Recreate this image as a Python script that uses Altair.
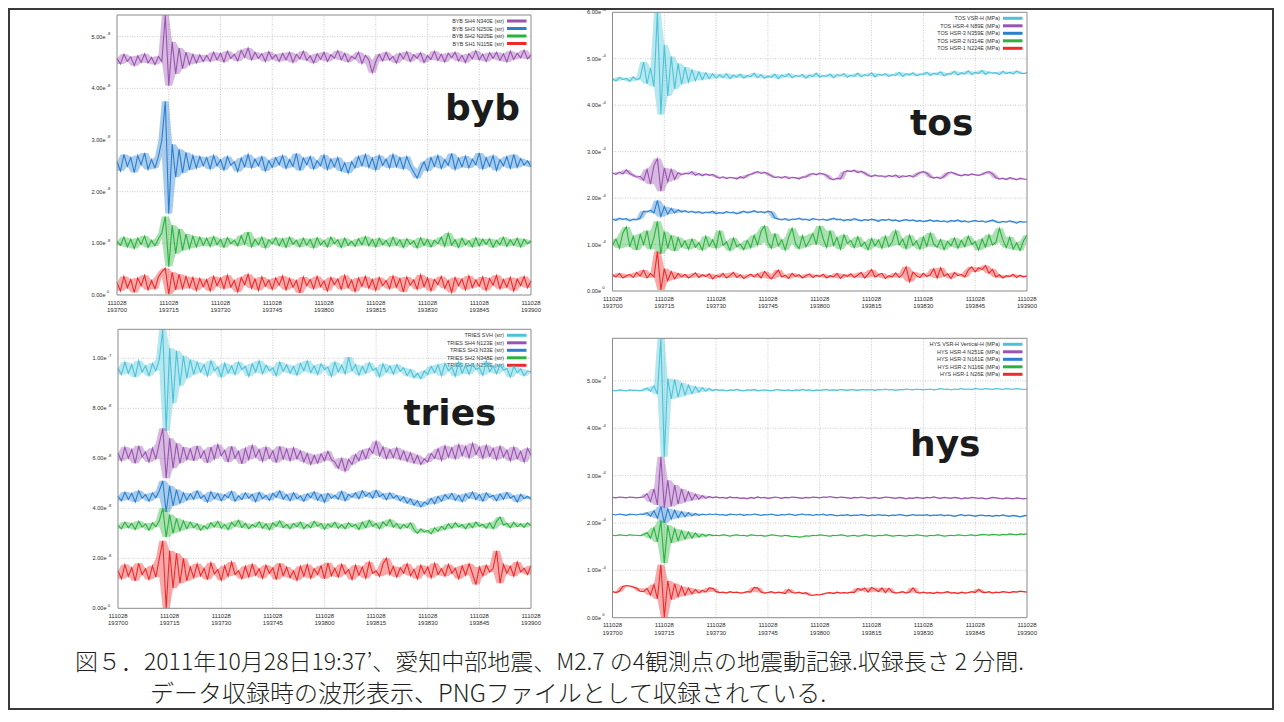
import altair as alt
import pandas as pd

# ---------------- shared axis text ----------------
XTICKS = [0, 15, 30, 45, 60, 75, 90, 105, 120]          # seconds after 19:37:00
XLAB_DATE = ["111028"] * 9
XLAB_TIME = ["193700", "193715", "193730", "193745", "193800",
             "193815", "193830", "193845", "193900"]

# ---------------- byb (strain, units of 1e-10) ----------------
BYB_NAMES = ["BYB SH4 N340E (str)", "BYB SH3 N250E (str)", "BYB SH2 N205E (str)", "BYB SH1 N115E (str)"]
BYB_YTICKS = [0, 100, 200, 300, 400, 500]
BYB_YMANT = ["0.00e", "1.00e", "2.00e", "3.00e", "4.00e", "5.00e"]
BYB_YEXP = ["0", "-8", "-8", "-8", "-8", "-8"]
BYB_SH4 = [458,447,466,452,461,444,463,450,467,449,460,446,462,
           452,560,405,490,428,478,438,470,446,466,449,465,452,
           464,452,470,455,468,451,472,458,466,453,474,460,478,455,470,458,467,452,471,457,465,
           452,468,455,470,450,466,457,472,454,463,449,467,456,470,452,465,458,473,455,468,451,462,457,470,448,464,455,
           430,452,
           466,453,470,455,462,449,468,457,471,452,465,458,469,450,463,456,472,454,466,451,
           468,459,470,453,464,450,467,457,473,455,466,452,469,458,470,454,467,451,472,456,468,459,474,457,465]
BYB_SH3 = [258,240,272,249,266,237,270,252,275,243,262,246,268,
           300,375,158,292,228,282,236,276,242,270,246,268,250,
           266,244,270,250,262,242,268,251,258,239,265,248,272,246,263,250,268,240,260,247,266,
           252,270,245,262,249,274,241,265,252,268,244,260,250,271,243,263,248,266,240,256,236,258,246,268,250,272,247,
           265,242,270,251,263,246,272,248,266,244,268,250,238,226,244,258,240,266,249,270,
           245,262,251,274,243,265,248,269,246,263,252,275,244,266,249,270,241,262,250,268,245,272,247,264,251,260,248]
BYB_SH2 = [104,96,112,93,108,90,110,98,114,92,106,95,109,
           120,152,55,135,80,128,86,118,90,114,93,112,96,
           110,94,113,97,108,92,111,99,106,95,115,98,122,93,108,97,112,91,107,99,111,
           95,109,92,112,98,106,93,110,96,108,91,111,97,105,93,112,99,107,92,110,96,104,94,109,97,113,95,
           108,93,110,97,106,94,112,96,107,92,109,98,105,91,111,96,108,93,106,99,
           112,94,120,96,107,92,110,97,105,93,111,95,108,98,109,92,106,97,112,94,107,96,110,93,108,99,105]
BYB_SH1 = [24,8,36,14,30,5,33,18,38,10,28,12,35,
           45,52,2,44,10,40,12,36,14,34,9,32,16,
           30,8,36,18,33,12,38,15,28,6,34,20,40,13,31,9,35,17,29,11,33,
           19,37,10,32,15,28,4,35,18,30,12,36,16,27,8,34,20,31,11,38,14,29,7,33,17,36,13,
           30,9,34,18,28,12,37,15,32,6,35,19,29,11,39,16,33,8,30,20,
           36,13,28,5,34,18,31,10,37,14,29,17,35,9,32,19,38,12,30,15,34,8,31,18,36,14,27]

# ---------------- tos (MPa, units of 1e-6) ----------------
TOS_NAMES = ["TOS VSR-H (MPa)", "TOS HSR-4 N89E (MPa)", "TOS HSR-3 N359E (MPa)",
             "TOS HSR-2 N314E (MPa)", "TOS HSR-1 N224E (MPa)"]
TOS_YTICKS = [0, 100, 200, 300, 400, 500, 600]
TOS_YMANT = ["0.00e", "1.00e", "2.00e", "3.00e", "4.00e", "5.00e", "6.00e"]
TOS_YEXP = ["0", "-4", "-4", "-4", "-4", "-4", "-4"]
TOS_VSR = [457,452,460,455,458,451,461,454,459,
           493,446,480,440,640,380,530,420,505,435,490,445,482,450,476,453,472,455,470,457,468,458,
           466,459,468,457,465,460,467,458,464,461,469,459,466,458,463,460,467,457,465,461,468,459,464,462,466,458,465,461,469,460,
           464,462,467,459,466,463,468,460,465,462,469,461,466,463,470,461,467,464,468,462,466,464,471,462,468,465,470,463,467,466,
           471,464,469,466,472,463,468,467,473,465,470,467,474,466,471,468,475,466,472,469,470,466,473,468,471,467,474,469,468,470]
TOS_HSR4 = [254,251,256,252,261,253,249,245,247,
            238,262,230,270,285,215,265,235,262,240,255,250,254,252,257,249,253,248,252,249,251,246,
            243,246,242,245,244,241,246,243,249,251,
            254,257,253,256,252,248,
            244,246,243,247,242,245,244,241,246,245,
            251,253,250,254,252,249,
            242,239,243,241,
            256,259,257,260,255,258,254,
            249,246,250,247,248,245,249,246,250,244,248,246,249,245,251,
            255,257,254,
            246,243,245,242,247,
            254,256,253,
            250,248,251,249,252,250,249,251,
            255,257,252,
            244,241,243,240,244,242,239,243,241,240]
TOS_HSR3 = [155,152,157,154,156,151,155,153,157,
            172,170,174,168,195,160,182,165,178,168,175,170,
            173,169,172,168,171,167,170,168,172,166,169,167,171,168,170,166,169,172,168,170,173,169,171,168,172,170,
            157,
            155,153,156,152,155,154,157,153,155,152,156,154,153,
            155,152,154,157,153,155,151,154,152,156,153,151,154,152,155,
            153,150,154,152,155,151,153,150,152,154,151,153,150,152,149,
            151,153,150,152,149,151,148,152,150,153,149,151,148,150,152,
            149,151,148,150,153,149,147,150,148,151,149,146,150,148,149]
TOS_HSR2 = [98,112,92,125,138,95,118,88,122,100,130,90,115,
            150,80,128,92,120,86,115,95,
            108,90,112,94,104,88,118,96,110,92,130,98,106,87,114,95,101,89,109,93,
            120,99,128,140,105,92,124,97,110,88,116,135,102,91,119,95,108,124,100,140,
            112,94,130,98,115,90,121,102,109,93,117,96,105,89,113,97,110,92,118,95,
            106,130,99,112,91,120,98,108,90,116,96,125,101,94,111,89,107,97,114,92,
            109,95,118,100,106,88,112,94,121,99,105,135,110,93,116,90,104,87,108,120]
TOS_HSR1 = [35,30,38,28,33,36,29,40,32,45,28,38,30,
            85,2,48,22,42,26,38,30,
            36,28,33,39,29,35,31,37,26,34,30,38,28,33,40,29,35,27,32,36,
            30,37,28,42,33,26,36,45,30,34,27,38,31,35,28,33,37,29,34,31,
            36,28,33,30,38,27,35,31,37,29,34,40,28,36,46,30,35,38,27,33,
            30,39,29,36,52,20,41,33,29,38,31,35,48,28,50,32,37,27,40,33,
            36,30,45,52,41,50,46,55,38,47,30,35,28,33,31,36,29,34,30,33]

# ---------------- tries (strain, units of 1e-10) ----------------
TRIES_NAMES = ["TRIES SVH (str)", "TRIES SH4 N123E (str)", "TRIES SH3 N33E (str)",
               "TRIES SH2 N348E (str)", "TRIES SH1 N258E (str)"]
TRIES_YTICKS = [0, 200, 400, 600, 800, 1000]
TRIES_YMANT = ["0.00e", "2.00e", "4.00e", "6.00e", "8.00e", "1.00e"]
TRIES_YEXP = ["0", "-8", "-8", "-8", "-8", "-7"]
TRIES_SVH = [960,935,985,940,975,925,990,945,970,930,980,950,
             995,1150,710,1040,820,1030,890,1010,920,995,935,985,
             945,975,930,990,950,965,925,980,940,970,935,985,955,968,928,978,945,990,938,972,950,962,930,985,948,975,940,
             968,932,980,950,990,942,970,935,978,955,965,928,985,945,972,938,1005,950,975,932,968,940,982,952,960,926,978,944,970,936,
             975,948,962,930,955,922,940,918,950,935,968,942,975,930,980,950,965,928,985,940,
             972,936,978,955,962,932,988,946,970,938,975,952,960,925,968,942,958,930,950,945]
TRIES_SH4 = [620,590,645,600,635,580,650,605,625,585,640,598,
             660,720,520,680,560,660,580,645,595,
             638,590,650,602,630,582,645,598,655,610,632,585,648,600,628,578,640,595,652,605,635,588,645,600,630,583,648,597,638,590,
             642,598,630,585,620,575,612,580,618,590,628,595,
             585,560,600,548,595,575,
             615,590,632,598,640,620,668,610,645,598,635,602,
             642,595,630,588,622,580,612,575,598,585,620,600,
             638,592,650,605,642,598,655,610,648,602,660,615,645,600,652,608,640,595,648,605,632,590,645,598,628,585,640,612]
TRIES_SH3 = [448,430,465,435,460,425,470,440,455,428,462,442,
             470,510,385,490,410,475,420,462,432,
             458,436,470,440,452,425,466,438,460,430,455,442,468,428,450,435,462,440,456,426,464,438,452,432,460,444,470,436,455,430,
             462,438,450,428,458,442,466,432,455,424,460,440,452,436,468,430,456,444,462,438,470,448,462,440,472,446,458,434,462,440,
             452,430,446,420,438,412,430,405,425,415,440,418,448,428,455,
             438,460,432,452,426,458,440,465,435,455,428,462,444,452,430,458,436,464,440,450,425,456,438,448,436]
TRIES_SH2 = [332,318,345,322,340,315,348,325,338,312,342,326,
             350,400,285,375,300,360,310,350,318,
             345,322,338,312,330,318,342,325,348,320,336,315,344,328,352,322,340,318,335,325,346,320,338,314,342,328,350,322,336,318,
             340,326,345,318,335,322,348,328,340,316,338,325,344,320,335,318,342,326,336,315,345,322,352,328,340,318,346,330,355,324,340,318,336,322,342,
             315,300,318,305,312,298,322,308,328,315,
             338,320,342,325,335,318,340,322,345,328,336,320,342,318,348,365,332,340,322,344,326,338,324,342,330]
TRIES_SH1 = [150,118,175,128,162,110,180,135,158,115,170,125,
             200,270,0,230,80,220,100,200,110,
             165,122,178,130,160,115,182,138,155,112,170,128,185,135,150,118,168,125,176,132,158,120,172,140,162,115,180,130,165,122,
             150,112,168,128,175,120,158,135,170,118,182,130,160,125,176,138,155,115,172,132,165,120,185,140,150,128,178,200,135,168,
             125,162,140,178,130,155,118,172,138,165,122,180,135,158,128,175,140,160,118,170,
             132,178,138,95,165,130,172,145,160,230,100,175,140,168,128,185,145,160,135,170]

# ---------------- hys (MPa, units of 1e-6) ----------------
HYS_NAMES = ["HYS VSR-H Vertical-H (MPa)", "HYS HSR-4 N251E (MPa)", "HYS HSR-3 N161E (MPa)",
             "HYS HSR-2 N116E (MPa)", "HYS HSR-1 N26E (MPa)"]
HYS_YTICKS = [0, 100, 200, 300, 400, 500]
HYS_YMANT = ["0.00e", "1.00e", "2.00e", "3.00e", "4.00e", "5.00e"]
HYS_YEXP = ["0", "-4", "-4", "-4", "-4", "-4"]
HYS_VSR = [480,479,481,480,479,481,480,480,479,481,
           485,478,490,472,640,340,505,462,503,465,496,470,491,473,488,476,486,478,484,479,482,
           480,481,479,481,480,482,480,479,481,480,482,479,480,481,480,479,481,482,480,480,481,479,481,480,482,480,481,479,481,480,
           481,482,480,481,480,482,481,480,482,481,480,482,481,481,482,480,482,481,483,481,482,480,482,481,483,482,481,483,482,481,
           482,483,481,482,484,482,483,481,483,482,484,482,483,482,484,483,482,484,483,482,484,483,482,484,483,482,484,483,482,483]
HYS_HSR4 = [254,253,255,254,253,255,254,253,254,255,
            262,245,272,238,340,232,290,235,280,240,272,245,266,248,261,250,258,252,256,253,
            255,253,254,252,255,253,254,252,253,251,254,252,255,253,254,252,253,255,254,252,254,253,255,254,253,252,254,253,255,254,
            253,255,254,256,254,253,255,254,253,252,254,253,255,254,252,253,254,252,253,255,254,253,252,254,253,251,253,252,254,253,
            252,254,253,255,253,252,254,253,252,254,253,251,253,252,254,253,252,253,251,252,254,253,252,251,253,252,251,253,252,251,252]
HYS_HSR3 = [218,217,219,218,216,219,218,217,219,218,
            222,214,226,210,235,200,230,208,227,211,224,213,222,215,220,216,219,217,219,218,
            219,217,218,216,219,218,217,219,216,218,217,219,218,216,218,217,219,217,216,218,217,219,218,216,218,219,217,218,216,218,
            217,219,216,218,217,215,217,216,218,215,217,216,218,217,215,217,216,218,216,217,215,217,216,218,217,215,216,218,216,217,
            216,218,215,217,216,218,215,217,216,214,216,218,215,217,216,214,216,217,215,216,214,216,215,217,215,214,216,215,213,215,216]
HYS_HSR2 = [174,173,175,174,173,175,174,174,173,175,
            180,168,190,160,205,115,195,158,188,162,184,166,181,168,179,170,177,172,176,173,
            174,173,175,174,172,174,175,173,174,172,175,174,173,174,172,173,175,174,173,172,174,173,171,172,170,171,173,172,174,173,
            175,174,173,172,174,173,175,174,172,173,174,172,173,175,174,173,172,174,173,175,174,172,173,174,173,172,174,173,175,174,
            173,172,174,173,175,174,172,173,174,173,175,174,173,174,175,173,174,176,175,174,176,175,174,176,175,177,176,175,177,176,177]
HYS_HSR1 = [55,53,56,
            66,68,67,65,62,
            56,55,
            62,48,70,40,112,0,78,38,72,44,66,47,63,50,60,52,58,54,63,62,
            55,53,54,52,55,53,54,52,53,55,54,
            64,63,
            54,52,53,55,52,54,53,51,
            60,
            53,52,54,51,53,
            48,47,49,48,50,
            52,53,51,54,52,53,52,54,53,
            62,58,63,54,64,60,55,63,53,62,
            54,52,53,55,52,54,
            63,
            53,52,54,52,53,51,54,52,53,55,52,53,51,54,52,53,55,53,
            60,
            54,53,55,52,54,53,55,54,53,55,54,56,55,54]

COLORS5 = ["#4cc3d8", "#9a53b1", "#2a7fcf", "#2cb23e", "#ee2b2b"]
COLORS4 = COLORS5[1:]

CAPTION_1 = "図５．2011年10月28日19:37’、愛知中部地震、M2.7 の4観測点の地震動記録.収録長さ 2 分間."
CAPTION_2 = "データ収録時の波形表示、PNGファイルとして収録されている."

TXT = "#2b2b2b"


def panel(box, ymax, yticks, ymant, yexp, names, series, colors, big, bigxy):
    x0, x1, yt, yb = box
    xs = alt.Scale(domain=[0, 120], range=[x0, x1], nice=False, zero=False)
    ys = alt.Scale(domain=[0, ymax], range=[yb, yt], nice=False, zero=False, clamp=True)

    def X(f):
        return alt.X(f, type="quantitative", scale=xs, axis=None)

    def Y(f):
        return alt.Y(f, type="quantitative", scale=ys, axis=None)

    layers = []
    # vertical dotted grid
    vg = pd.DataFrame({"t": XTICKS[1:-1], "lo": 0, "hi": ymax})
    layers.append(alt.Chart(vg).mark_rule(color="#bdbdbd", strokeDash=[1, 1.5], strokeWidth=0.8)
                  .encode(x=X("t"), y=Y("lo"), y2="hi"))
    # horizontal dotted grid
    hv = [v for v in yticks if 0 < v < ymax]
    hg = pd.DataFrame({"v": hv, "lo": 0, "hi": 120})
    layers.append(alt.Chart(hg).mark_rule(color="#bdbdbd", strokeDash=[1, 1.5], strokeWidth=0.8)
                  .encode(y=Y("v"), x=X("lo"), x2="hi"))
    # legend (text right, swatch at right)
    for i, (nm, c) in enumerate(zip(names, colors)):
        ly = yt + 6 + 7.5 * i
        ldf = pd.DataFrame({"label": [nm]})
        layers.append(alt.Chart(ldf).mark_text(align="right", baseline="middle", fontSize=5.4,
                                               font="Liberation Sans", color="#333")
                      .encode(x=alt.value(x1 - 27), y=alt.value(ly), text="label:N"))
        layers.append(alt.Chart(ldf).mark_rule(color=c, strokeWidth=3)
                      .encode(x=alt.value(x1 - 24), x2=alt.value(x1 - 4.5), y=alt.value(ly)))
    # waveforms: running min/max band (dense-noise look) + the trace itself
    for vals, c in zip(series, colors):
        sdf = pd.DataFrame({"t": list(range(len(vals))), "v": vals})
        base = alt.Chart(sdf)
        layers.append(base.transform_window(lo="min(v)", hi="max(v)", frame=[-1, 1],
                                            sort=[alt.SortField("t")])
                      .mark_area(color=c, opacity=0.4)
                      .encode(x=X("t"), y=Y("lo"), y2="hi"))
        layers.append(base.mark_line(color=c, strokeWidth=1.1)
                      .encode(x=X("t"), y=Y("v")))
    # frame
    fr = pd.DataFrame({"a": [0], "b": [120], "c": [0], "d": [ymax]})
    layers.append(alt.Chart(fr).mark_rect(fill="transparent", stroke="#8a8a8a", strokeWidth=1)
                  .encode(x=X("a"), x2="b", y=Y("c"), y2="d"))
    # x tick labels (two lines)
    xl = pd.DataFrame({"t": XTICKS, "v": 0, "d": XLAB_DATE, "h": XLAB_TIME})
    layers.append(alt.Chart(xl).mark_text(dy=7.7, fontSize=6, baseline="middle", align="center",
                                          font="Liberation Sans", color=TXT)
                  .encode(x=X("t"), y=Y("v"), text="d:N"))
    layers.append(alt.Chart(xl).mark_text(dy=15, fontSize=6, baseline="middle", align="center",
                                          font="Liberation Sans", color=TXT)
                  .encode(x=X("t"), y=Y("v"), text="h:N"))
    # y tick labels: mantissa + raised exponent
    yl = pd.DataFrame({"t": 0, "v": yticks, "m": ymant, "e": yexp})
    layers.append(alt.Chart(yl).mark_text(dx=-11.5, fontSize=5.6, baseline="middle", align="right",
                                          font="Liberation Sans", color=TXT)
                  .encode(x=X("t"), y=Y("v"), text="m:N"))
    layers.append(alt.Chart(yl).mark_text(dx=-10.3, dy=-2.6, fontSize=4.2, baseline="middle", align="left",
                                          font="Liberation Sans", color=TXT)
                  .encode(x=X("t"), y=Y("v"), text="e:N"))
    # station name
    bdf = pd.DataFrame({"label": [big]})
    layers.append(alt.Chart(bdf).mark_text(align="left", baseline="alphabetic", font="DejaVu Sans",
                                           fontWeight="bold", fontSize=36, color="#1b1b1b")
                  .encode(x=alt.value(bigxy[0]), y=alt.value(bigxy[1]), text="label:N"))
    return alt.layer(*layers)


p1 = panel((109, 523, 7, 287), 542, BYB_YTICKS, BYB_YMANT, BYB_YEXP, BYB_NAMES,
           [BYB_SH4, BYB_SH3, BYB_SH2, BYB_SH1], COLORS4, "byb", (437, 112))
p2 = panel((604.5, 1019, 4.3, 283), 600, TOS_YTICKS, TOS_YMANT, TOS_YEXP, TOS_NAMES,
           [TOS_VSR, TOS_HSR4, TOS_HSR3, TOS_HSR2, TOS_HSR1], COLORS5, "tos", (902, 127))
p3 = panel((110, 523, 321.3, 600.3), 1116, TRIES_YTICKS, TRIES_YMANT, TRIES_YEXP, TRIES_NAMES,
           [TRIES_SVH, TRIES_SH4, TRIES_SH3, TRIES_SH2, TRIES_SH1], COLORS5, "tries", (395.4, 417))
p4 = panel((604.5, 1019, 330.3, 609.7), 590, HYS_YTICKS, HYS_YMANT, HYS_YEXP, HYS_NAMES,
           [HYS_VSR, HYS_HSR4, HYS_HSR3, HYS_HSR2, HYS_HSR1], COLORS5, "hys", (902, 448))

cap1 = alt.Chart(pd.DataFrame({"label": [CAPTION_1]})).mark_text(
    align="left", baseline="middle", font="Noto Sans CJK JP", fontWeight=300, fontSize=23, color="#231f20"
).encode(x=alt.value(67), y=alt.value(655), text="label:N")
cap2 = alt.Chart(pd.DataFrame({"label": [CAPTION_2]})).mark_text(
    align="left", baseline="middle", font="Noto Sans CJK JP", fontWeight=300, fontSize=24, color="#231f20"
).encode(x=alt.value(142), y=alt.value(687), text="label:N")

chart = (
    alt.layer(p1, p2, p3, p4, cap1, cap2)
    .resolve_scale(x="independent", y="independent")
    .properties(width=1266, height=702, padding=0, autosize=alt.AutoSizeParams(type="none"))
    .configure_view(stroke="#3a3a3a", strokeWidth=4)
)

chart.save("out.html", embed_options={"renderer": "svg", "actions": False})
